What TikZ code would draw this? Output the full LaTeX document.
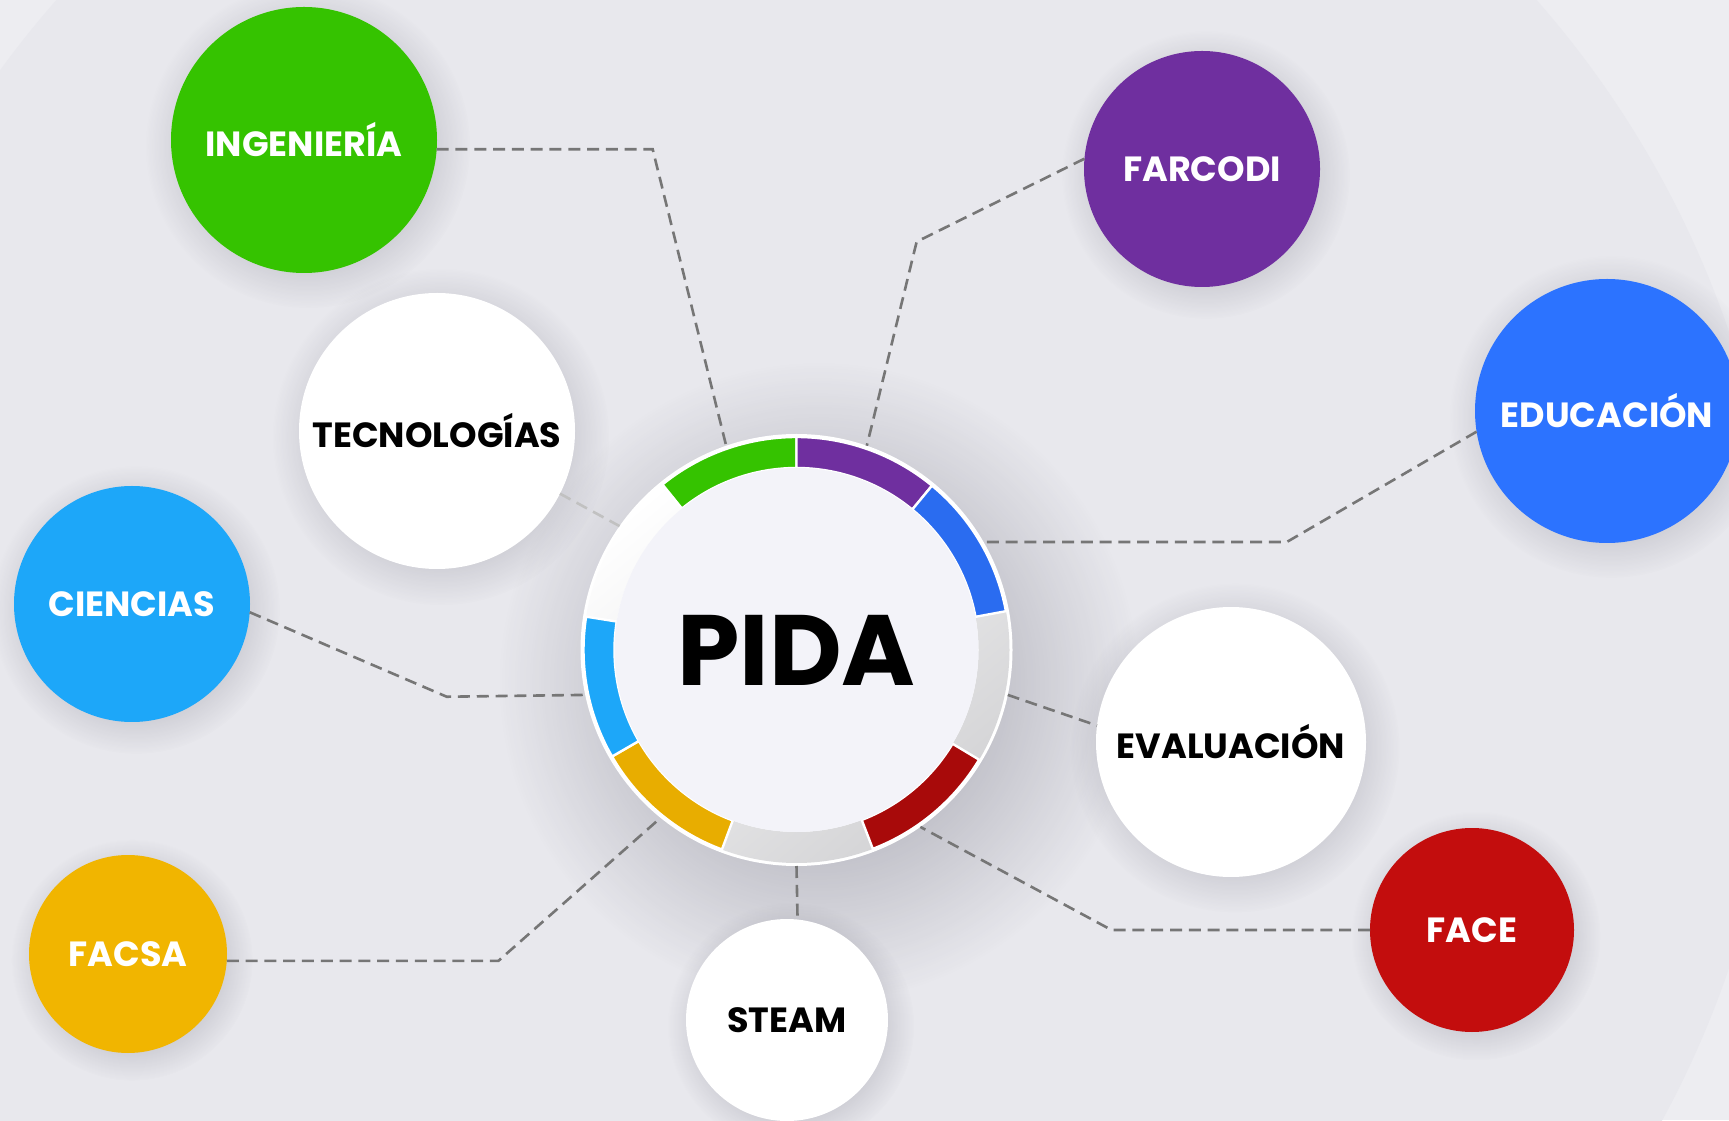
\documentclass[tikz,border=0pt]{standalone}
\usepackage{fontspec}
\setmainfont{Poppins}
\usepackage{tikz}
\usetikzlibrary{positioning,fadings}
\definecolor{bgpage}{RGB}{232,232,237}
\definecolor{bgouter}{RGB}{237,237,241}
\definecolor{shadowc}{RGB}{40,40,60}
\definecolor{pidacore}{RGB}{243,243,249}
\definecolor{ringgray}{RGB}{212,212,214}
\definecolor{linkgray}{RGB}{118,118,118}
\definecolor{inggreen}{RGB}{53,195,0}
\definecolor{farpurple}{RGB}{111,47,159}
\definecolor{edublue}{RGB}{44,115,255}
\definecolor{ciecyan}{RGB}{29,167,249}
\definecolor{facsagold}{RGB}{241,181,0}
\definecolor{facered}{RGB}{195,13,13}
\definecolor{ringblue}{RGB}{42,108,240}
\definecolor{ringgold}{RGB}{232,173,0}
\definecolor{ringred}{RGB}{168,10,10}
\tikzfading[name=shadowfade, inner color=transparent!0, outer color=transparent!100]
\pgfdeclarelayer{back}
\pgfdeclarelayer{shadow}
\pgfsetlayers{back,shadow,main}
\tikzstyle{faculty} = [circle, inner sep=0pt, outer sep=0pt, text=white, font=\fontsize{17.5}{20}\selectfont\bfseries]
\tikzstyle{area} = [faculty, fill=white, text=black]
\tikzstyle{softshadow} = [fill=shadowc, path fading=shadowfade]
\tikzstyle{link} = [dash pattern=on 6pt off 3.4pt, line width=1.3pt, color=linkgray]
\tikzstyle{seg} = [draw=white, line width=1.2pt]

\begin{document}
\begin{tikzpicture}[x=0.5pt, y=0.5pt]
\useasboundingbox (0,0) rectangle (1729,1120);
\clip (0,0) rectangle (1729,1120);
\begin{pgfonlayer}{back}
\fill[bgouter] (0,0) rectangle (1729,1120);
\fill[bgpage] (796.5,470) circle (985);
\end{pgfonlayer}

% PIDA ring in the middle
\node (ring) [circle, inner sep=0pt, outer sep=0pt, minimum size=216pt, fill=white] at (796.5,470) {};
\shade[even odd rule, top color=white, bottom color=ringgray, shading angle=40] (ring.center) circle (213) circle (182);
\begin{scope}[shift={(ring.center)}]
\path[seg, fill=inggreen] (90:213) arc[start angle=90, end angle=129, radius=213] -- (129:182) arc[start angle=129, end angle=90, radius=182] -- cycle;
\path[seg, fill=farpurple] (50.5:213) arc[start angle=50.5, end angle=90, radius=213] -- (90:182) arc[start angle=90, end angle=50.5, radius=182] -- cycle;
\path[seg, fill=ringblue] (10.5:213) arc[start angle=10.5, end angle=50.5, radius=213] -- (50.5:182) arc[start angle=50.5, end angle=10.5, radius=182] -- cycle;
\path[seg, fill=ringred] (-69:213) arc[start angle=-69, end angle=-31, radius=213] -- (-31:182) arc[start angle=-31, end angle=-69, radius=182] -- cycle;
\path[seg, fill=ringgold] (-150:213) arc[start angle=-150, end angle=-110.5, radius=213] -- (-110.5:182) arc[start angle=-110.5, end angle=-150, radius=182] -- cycle;
\path[seg, fill=ciecyan] (171:213) arc[start angle=171, end angle=210, radius=213] -- (210:182) arc[start angle=210, end angle=171, radius=182] -- cycle;
\end{scope}
\node (pida) [circle, inner sep=0pt, minimum size=182pt, fill=pidacore, font=\fontsize{50}{54}\selectfont\bfseries] at (ring.center) {PIDA};

% Faculties and areas
\node (ing) [faculty, fill=inggreen, minimum size=133pt] at (304,980) {INGENIERÍA};
\node (far) [faculty, fill=farpurple, minimum size=118pt] at (1202,951) {FARCODI};
\node (edu) [faculty, fill=edublue, minimum size=132pt] at (1607,709) {EDUCACIÓN};
\node (tec) [area, minimum size=138pt] at (437,689) {TECNOLOGÍAS};
\node (cie) [faculty, fill=ciecyan, minimum size=118pt] at (132,516) {CIENCIAS};
\node (eva) [area, minimum size=135pt] at (1231,378) {EVALUACIÓN};
\node (facsa) [faculty, fill=facsagold, minimum size=99pt] at (128,166) {FACSA};
\node (steam) [area, minimum size=101pt] at (787,100) {STEAM};
\node (face) [faculty, fill=facered, minimum size=102pt] at (1472,190) {FACE};

% Soft shadows under the circles
\begin{pgfonlayer}{shadow}
\fill[softshadow, fill opacity=0.42] ([shift={(22,-32)}]ring.center) circle (320);
\foreach \n/\r in {ing/133, far/118, edu/132, tec/138, cie/118, eva/135, facsa/99, steam/101, face/102}
  \fill[softshadow, fill opacity=0.5] ([shift={(4,-6)}]\n.center) circle (\r*1.22);
\end{pgfonlayer}

% Dashed links to the ring
\draw[link] (ing.-4) -- ++(216,0) -- (ring.109);
\draw[link] (far.175) -- ++(-167.8,-83) -- (ring.71);
\draw[link] (edu.189) -- ++(-189.9,-110.4) -- (ring.30);
\draw[link, color=linkgray!45] (tec.-27) -- (ring.145);
\draw[link] (cie.-4) -- ++(197,-84.5) -- (ring.192.5);
\draw[link] (ring.-12.5) -- (eva.173);
\draw[link] (facsa.-4) -- ++(271.6,0) -- (ring.231);
\draw[link] (ring.-90) -- (steam.84);
\draw[link] (face.west) -- ++(-258.5,0) -- (ring.-55);
\end{tikzpicture}
\end{document}
